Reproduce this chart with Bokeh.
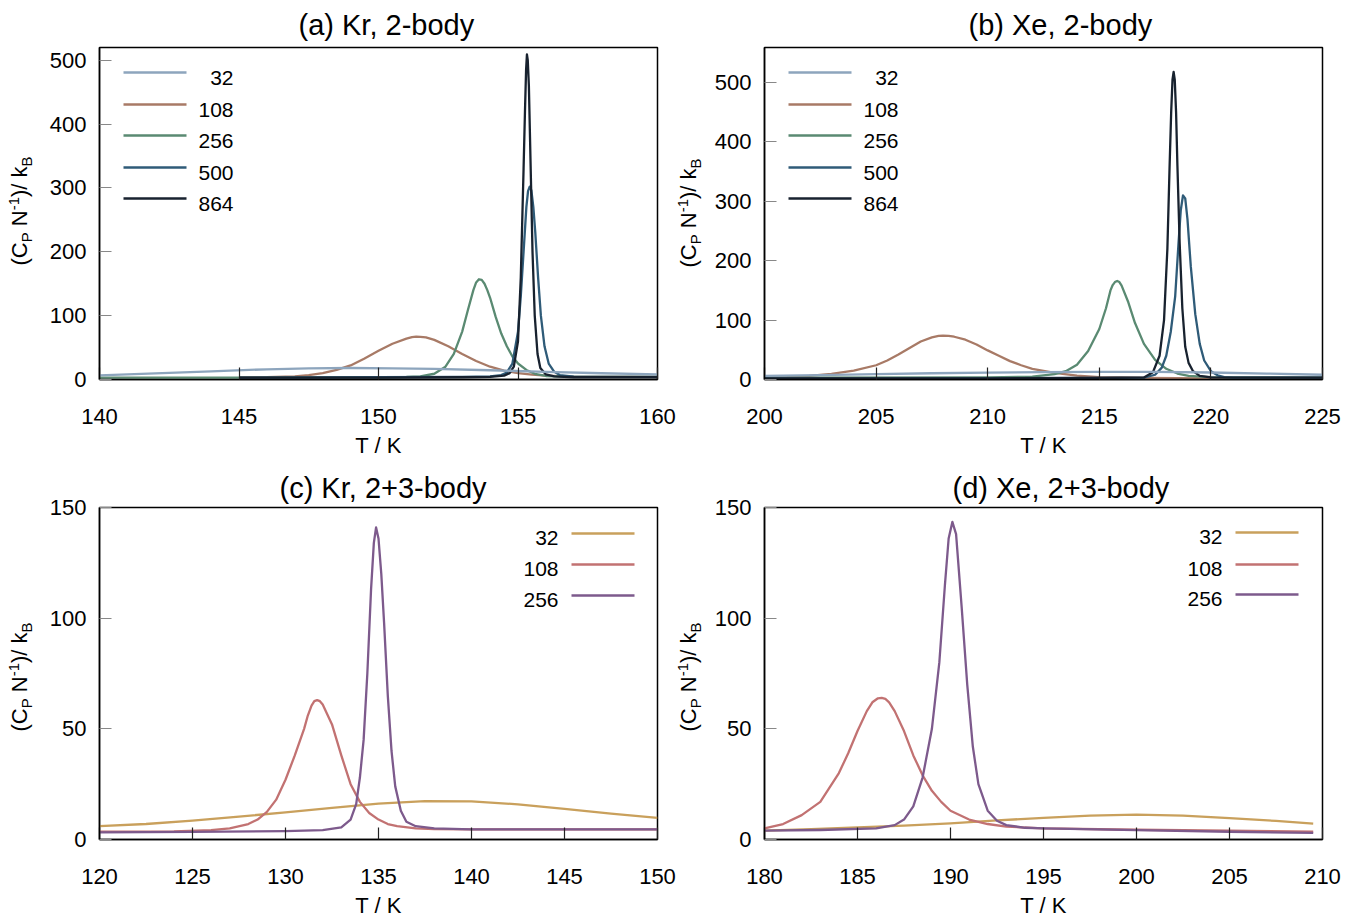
import math
from bokeh.plotting import figure
from bokeh.layouts import row, column
from bokeh.models import FixedTicker, Label, BoxAnnotation, Range1d, Div
from bokeh.embed import file_html
from bokeh.resources import INLINE

FONT = "Liberation Sans"

# ---------------- data ----------------
sizes_2body = ["32", "108", "256", "500", "864"]
sizes_3body = ["32", "108", "256"]

# (a) Kr, 2-body
kr2_T_32 = [140, 142, 144, 146, 147.5, 149, 150.5, 152, 154, 156, 158, 160]
kr2_C_32 = [6.5, 9.5, 12.8, 16, 17.5, 18, 17.5, 16.5, 14.5, 12, 9.8, 8]
kr2_T_108 = [145, 146, 147, 147.5, 148, 148.5, 149, 149.5, 150, 150.5, 151, 151.2, 151.35, 151.5,
             151.7, 152, 152.5, 153, 153.5, 154, 154.5, 155, 155.5, 156, 157, 160]
kr2_C_108 = [3, 3.5, 5, 7, 10, 15, 22, 33, 45, 56, 64, 66.3, 67, 66.8,
             66, 62, 52, 40, 29, 20, 14, 10, 7.5, 6, 4.5, 4]
kr2_T_256 = [140, 145, 150, 151, 151.5, 152, 152.4, 152.7, 153, 153.2, 153.4, 153.5, 153.6, 153.7,
             153.8, 153.9, 154, 154.2, 154.4, 154.6, 154.8, 155, 155.3, 155.6, 156, 157, 160]
kr2_C_256 = [3, 3, 3.5, 4, 5, 9, 20, 40, 75, 108, 140, 152, 157, 156,
             150, 140, 128, 98, 72, 52, 36, 25, 15, 9, 5.5, 4, 4]
kr2_T_500 = [145, 150, 153, 154, 154.4, 154.6, 154.8, 155.0, 155.1, 155.2, 155.3, 155.36, 155.42,
             155.48, 155.55, 155.62, 155.72, 155.82, 155.95, 156.1, 156.3, 156.5, 157, 160]
kr2_C_500 = [3, 3.5, 4, 5, 7, 11, 25, 75, 130, 200, 270, 295, 302,
             296, 270, 230, 160, 100, 52, 25, 12, 7, 4.5, 4]
kr2_T_864 = [145, 150, 153, 154, 154.5, 154.7, 154.85, 155.0, 155.1, 155.2, 155.25, 155.29, 155.32,
             155.35, 155.39, 155.45, 155.52, 155.6, 155.7, 155.8, 156, 156.3, 157, 160]
kr2_C_864 = [3, 3, 3.5, 4, 6, 10, 20, 60, 160, 330, 420, 485, 509,
             500, 460, 340, 200, 100, 40, 18, 8, 5, 3.5, 3.5]

# (b) Xe, 2-body
xe2_T_32 = [200, 202.5, 205, 207.5, 210, 212.5, 215, 217.5, 220, 222.5, 225]
xe2_C_32 = [6, 7.5, 9, 10.5, 11.5, 12.5, 13, 12.8, 11.8, 10, 8]
xe2_T_108 = [200, 201, 202, 203, 204, 205, 205.5, 206, 206.5, 207, 207.5, 207.8, 208, 208.25,
             208.5, 209, 209.5, 210, 210.5, 211, 211.5, 212, 213, 214, 215, 217, 220, 225]
xe2_C_108 = [3, 4, 6, 9.5, 15, 24, 32, 42, 53, 64, 71, 73.3, 74, 73.6,
             72, 67, 59, 49, 40, 31, 24, 18, 11, 6.5, 4, 2.5, 2, 2]
xe2_T_256 = [200, 210, 212, 213, 213.5, 214, 214.5, 215, 215.3, 215.5, 215.6, 215.7, 215.8,
             215.9, 216, 216.3, 216.6, 217, 217.5, 218, 218.5, 219, 220, 225]
xe2_C_256 = [3, 3.5, 5, 9, 14, 25, 48, 85, 120, 150, 159, 164, 166,
             164, 158, 130, 95, 60, 33, 18, 10, 6, 4, 3]
xe2_T_500 = [200, 210, 215, 217, 217.5, 217.8, 218, 218.2, 218.4, 218.55, 218.65, 218.75, 218.85,
             218.95, 219.1, 219.3, 219.5, 219.7, 220, 220.3, 220.6, 221, 225]
xe2_C_500 = [2, 2, 2.5, 3, 8, 20, 40, 80, 140, 230, 285, 310, 305,
             270, 190, 110, 60, 32, 14, 7, 4, 3, 3]
xe2_T_864 = [200, 210, 215, 217, 217.4, 217.7, 217.9, 218.05, 218.15, 218.22, 218.28, 218.33,
             218.38, 218.44, 218.5, 218.6, 218.72, 218.85, 219, 219.2, 219.5, 220, 225]
xe2_C_864 = [2, 2, 2.5, 3.5, 12, 40, 100, 220, 360, 450, 505, 518,
             505, 450, 360, 230, 120, 55, 28, 14, 6, 3.5, 3]

# (c) Kr, 2+3-body
kr3_T_32 = [120, 122.5, 125, 127.5, 130, 132.5, 135, 137.5, 140, 142.5, 145, 147.5, 150]
kr3_C_32 = [6, 7, 8.5, 10.3, 12.3, 14.3, 16.2, 17.3, 17.2, 15.9, 13.8, 11.7, 9.8]
kr3_T_108 = [120, 124, 126, 127, 128, 128.5, 129, 129.5, 130, 130.5, 131, 131.2, 131.4, 131.55,
             131.7, 131.85, 132, 132.5, 133, 133.5, 134, 134.5, 135, 135.5, 136, 137, 138, 140, 150]
kr3_C_108 = [3.5, 3.7, 4.2, 5, 7, 9, 12.5, 18, 27, 38, 50, 56, 60.5, 62.5,
             63, 62.5, 61, 52, 38, 25, 17, 12, 9, 7, 6, 5, 4.7, 4.6, 4.6]
kr3_T_256 = [120, 125, 130, 132, 133, 133.5, 133.8, 134, 134.2, 134.4, 134.6, 134.75, 134.87,
             135.0, 135.15, 135.3, 135.5, 135.7, 135.9, 136.2, 136.5, 137, 138, 140, 150]
kr3_C_256 = [3.2, 3.4, 3.8, 4.2, 5.5, 9, 16, 28, 45, 75, 113, 134, 141,
             136, 120, 98, 65, 40, 24, 13, 8, 6, 5, 4.6, 4.6]

# (d) Xe, 2+3-body
xe3_T_32 = [180, 182.5, 185, 187.5, 190, 192.5, 195, 197.5, 200, 202.5, 205, 207.5, 209.5]
xe3_C_32 = [4, 4.7, 5.5, 6.3, 7.3, 8.6, 9.8, 10.8, 11.2, 10.8, 9.7, 8.4, 7.2]
xe3_T_108 = [180, 181, 182, 183, 184, 184.5, 185, 185.5, 185.8, 186.1, 186.3, 186.5, 186.7, 187,
             187.5, 188, 188.5, 189, 189.5, 190, 191, 192, 193, 195, 200, 205, 209.5]
xe3_C_108 = [5, 7, 11, 17, 30, 39, 49, 58, 62, 63.8, 64, 63.5, 62, 58,
             49, 38, 29, 22, 17, 13, 9, 7, 5.8, 5, 4.4, 4, 3.5]
xe3_T_256 = [180, 183, 186, 187, 187.5, 188, 188.5, 189, 189.4, 189.7, 189.9, 190.1, 190.3,
             190.6, 190.9, 191.2, 191.5, 192, 192.5, 193, 194, 195, 200, 205, 209.5]
xe3_C_256 = [4, 4.3, 5, 6.5, 9, 15, 28, 50, 80, 115, 136, 143.5, 138,
             105, 70, 42, 25, 13, 8.5, 6.5, 5.3, 5, 4.2, 3.5, 3]

colors_2body = ["#8da5bd", "#a87a66", "#5a8a72", "#2f5b78", "#18222f"]
colors_3body = ["#c9a05c", "#c27272", "#7d5a8c"]

TITLES = ["(a) Kr, 2-body", "(b) Xe, 2-body", "(c) Kr, 2+3-body", "(d) Xe, 2+3-body"]
XLABEL = "T / K"


# ---------------- helpers ----------------
def ylabel_div(width, height, cx, cy):
    sub = 'style="font-size:15px"'
    html = (f'<div style="position:relative;width:{width}px;height:{height}px;">'
            f'<div style="position:absolute;left:{cx}px;top:{cy}px;'
            f'transform:translate(-50%,-50%) rotate(-90deg);white-space:nowrap;'
            f"font-family:'Liberation Sans',Arial,sans-serif;font-size:22px;color:black;line-height:1;\">"
            f'(C<sub {sub}>P</sub> N<sup {sub}>-1</sup>)/ k<sub {sub}>B</sub></div></div>')
    return Div(text=html, width=width, height=height, margin=(0, 0, 0, 0),
               styles={"overflow": "visible"})


def add_text(p, x, y, text, size, align="center"):
    p.add_layout(Label(x=x, y=y, x_units="screen", y_units="screen", text=text,
                       text_font=FONT, text_font_size=f"{size}px", text_align=align,
                       text_baseline="middle", text_color="black"))


def add_legend(p, labels, colors, line_x0, line_x1, line_ys, text_x, text_dy, size=21):
    for lab, col, ly in zip(labels, colors, line_ys):
        p.add_layout(BoxAnnotation(left=line_x0, right=line_x1, bottom=ly - 1.3, top=ly + 1.3,
                                   left_units="screen", right_units="screen",
                                   bottom_units="screen", top_units="screen",
                                   fill_color=col, fill_alpha=1, line_color=None))
        add_text(p, text_x, ly + text_dy, lab, size, align="right")


def make_panel(width, height, bl, br, bt, bb, xr, yr, xticks, yticks, title, toffset, tstand):
    p = figure(width=width, height=height, x_range=Range1d(*xr), y_range=Range1d(*yr),
               output_backend="svg", toolbar_location=None, title=title,
               min_border_left=bl, min_border_right=br, min_border_top=bt, min_border_bottom=bb)
    p.title.align = "left"
    p.title.offset = toffset
    p.title.standoff = tstand
    p.title.text_font = FONT
    p.title.text_font_size = "29px"
    p.title.text_font_style = "normal"
    p.title.text_color = "black"
    p.xgrid.visible = False
    p.ygrid.visible = False
    p.outline_line_color = "black"
    p.outline_line_width = 1.5
    p.outline_line_alpha = 1
    p.background_fill_color = "white"
    p.border_fill_color = "white"
    for ax, ticks, tcol, standoff in ((p.xaxis[0], xticks, "#222222", 29),
                                       (p.yaxis[0], yticks, "#888888", 13)):
        ax.ticker = FixedTicker(ticks=ticks)
        ax.major_tick_in = 12
        ax.major_tick_out = 0
        ax.major_tick_line_color = tcol
        ax.major_tick_line_width = 1.2
        ax.minor_tick_line_color = None
        ax.axis_line_color = "black"
        ax.axis_line_width = 1.5
        ax.major_label_text_font = FONT
        ax.major_label_text_font_size = "22px"
        ax.major_label_text_color = "black"
        ax.major_label_standoff = standoff
    xa = p.xaxis[0]
    xa.axis_label = XLABEL
    xa.axis_label_standoff = 6
    xa.axis_label_text_font = FONT
    xa.axis_label_text_font_size = "22px"
    xa.axis_label_text_font_style = "normal"
    xa.axis_label_text_color = "black"
    return p


def draw(p, Ts, Cs, colors):
    for T, C, col in zip(Ts, Cs, colors):
        p.line(T, C, line_color=col, line_width=2.3, line_join="round")


# ---------------- panels ----------------
pa = make_panel(640, 460, 59, 23, 46, 80, (140, 160), (0, 520),
                [140, 145, 150, 155, 160], [0, 100, 200, 300, 400, 500], TITLES[0], 199, 13)
draw(pa, [kr2_T_108, kr2_T_256, kr2_T_500, kr2_T_864, kr2_T_32],
     [kr2_C_108, kr2_C_256, kr2_C_500, kr2_C_864, kr2_C_32],
     colors_2body[1:] + colors_2body[:1])

pb = make_panel(655, 460, 60, 37, 46, 80, (200, 225), (0, 559),
                [200, 205, 210, 215, 220, 225], [0, 100, 200, 300, 400, 500], TITLES[1], 204, 13)
draw(pb, [xe2_T_108, xe2_T_256, xe2_T_500, xe2_T_864, xe2_T_32],
     [xe2_C_108, xe2_C_256, xe2_C_500, xe2_C_864, xe2_C_32],
     colors_2body[1:] + colors_2body[:1])

pc = make_panel(640, 460, 59, 23, 47, 78, (120, 150), (0, 150),
                [120, 125, 130, 135, 140, 145, 150], [0, 50, 100, 150], TITLES[2], 180, 8)
draw(pc, [kr3_T_32, kr3_T_108, kr3_T_256], [kr3_C_32, kr3_C_108, kr3_C_256], colors_3body)

pd = make_panel(655, 460, 60, 37, 47, 78, (180, 210), (0, 150),
                [180, 185, 190, 195, 200, 205, 210], [0, 50, 100, 150], TITLES[3], 188, 8)
draw(pd, [xe3_T_32, xe3_T_108, xe3_T_256], [xe3_C_32, xe3_C_108, xe3_C_256], colors_3body)

# legends
add_legend(pa, sizes_2body, colors_2body, 24, 87, [307, 275, 244, 212, 181], 134, -5)
add_legend(pb, sizes_2body, colors_2body, 24, 87, [307, 275, 244, 212, 181], 134, -5)
add_legend(pc, sizes_3body, colors_3body, 472, 535, [306, 275, 244], 459, -4)
add_legend(pd, sizes_3body, colors_3body, 471, 534, [307, 275, 245], 458, -4)

layout = column(
    row(ylabel_div(40, 460, 20, 211), pa, ylabel_div(24, 460, 9, 213), pb),
    row(ylabel_div(40, 460, 20, 217), pc, ylabel_div(24, 460, 9, 217), pd),
)

open("out.html", "w").write(file_html(layout, INLINE))
